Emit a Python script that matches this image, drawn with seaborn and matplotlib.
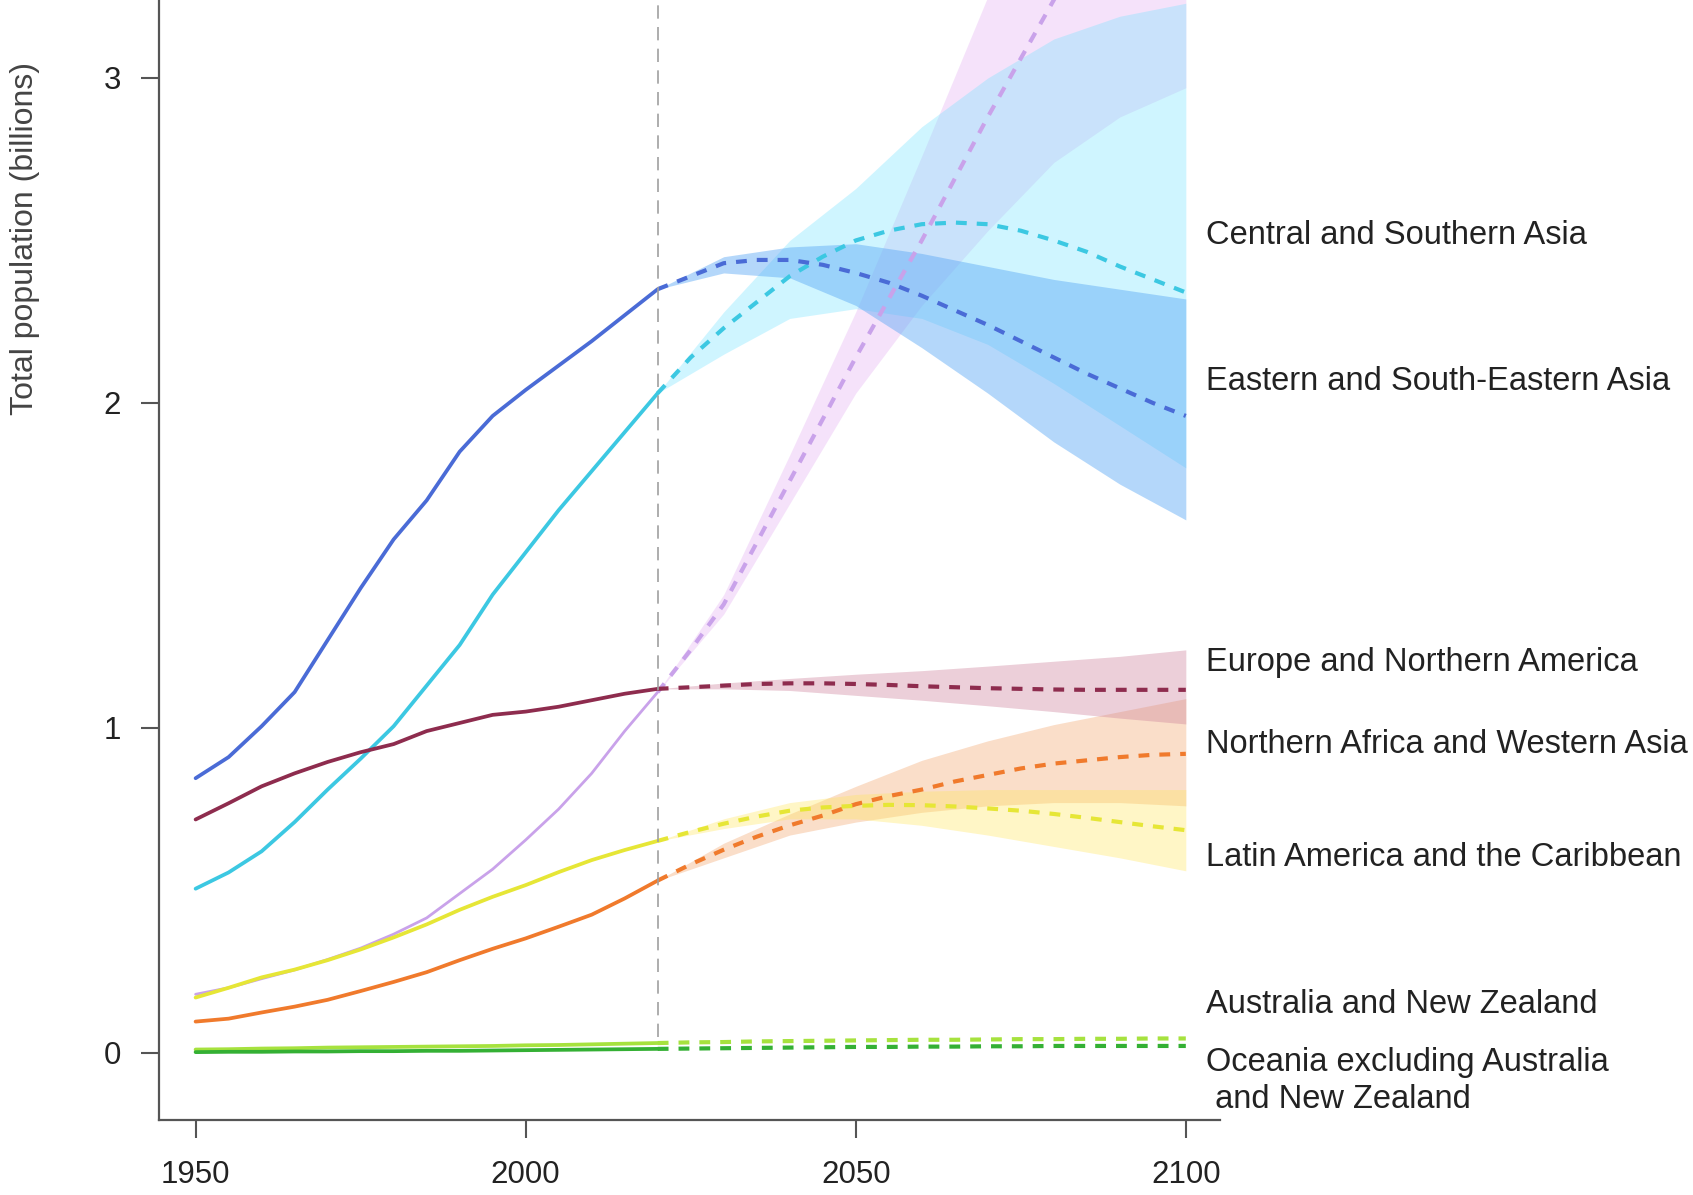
import matplotlib
matplotlib.use("Agg")
import matplotlib.pyplot as plt
import seaborn as sns

# years
hist_years = list(range(1950, 2021, 5))
proj_years = list(range(2020, 2101, 5))
band_years = list(range(2020, 2101, 10))

# estimates 1950-2020 (billions)
esea_hist = [0.845, 0.91, 1.005, 1.11, 1.27, 1.43, 1.58, 1.70, 1.85, 1.96, 2.04, 2.115, 2.19, 2.27, 2.35]
csa_hist = [0.505, 0.555, 0.62, 0.71, 0.81, 0.905, 1.005, 1.13, 1.255, 1.41, 1.54, 1.67, 1.79, 1.91, 2.03]
eur_hist = [0.718, 0.768, 0.82, 0.86, 0.895, 0.925, 0.95, 0.99, 1.015, 1.04, 1.05, 1.065, 1.085, 1.105, 1.12]
ssa_hist = [0.18, 0.20, 0.228, 0.255, 0.287, 0.322, 0.365, 0.415, 0.49, 0.565, 0.655, 0.75, 0.86, 0.99, 1.11]
latam_hist = [0.17, 0.20, 0.232, 0.256, 0.285, 0.318, 0.355, 0.395, 0.44, 0.48, 0.516, 0.556, 0.593, 0.624, 0.652]
nawa_hist = [0.096, 0.105, 0.124, 0.142, 0.163, 0.19, 0.218, 0.248, 0.285, 0.32, 0.352, 0.388, 0.425, 0.475, 0.53]
anz_hist = [0.010, 0.011, 0.013, 0.014, 0.016, 0.017, 0.018, 0.019, 0.020, 0.021, 0.023, 0.024, 0.026, 0.028, 0.030]
oce_hist = [0.002, 0.003, 0.003, 0.004, 0.004, 0.005, 0.005, 0.006, 0.006, 0.007, 0.008, 0.009, 0.010, 0.011, 0.012]

# projections 2020-2100 (median)
esea_proj = [2.35, 2.39, 2.43, 2.44, 2.44, 2.425, 2.40, 2.37, 2.33, 2.285, 2.24, 2.19, 2.14, 2.09, 2.045, 2.0, 1.96]
csa_proj = [2.03, 2.14, 2.23, 2.31, 2.39, 2.45, 2.50, 2.53, 2.55, 2.555, 2.55, 2.53, 2.50, 2.465, 2.42, 2.38, 2.34]
eur_proj = [1.12, 1.125, 1.13, 1.135, 1.137, 1.137, 1.135, 1.132, 1.128, 1.125, 1.122, 1.12, 1.118, 1.117, 1.117, 1.117, 1.117]
ssa_proj = [1.11, 1.24, 1.38, 1.57, 1.76, 1.95, 2.14, 2.32, 2.50, 2.69, 2.88, 3.06, 3.24, 3.42, 3.58, 3.72, 3.85]
latam_proj = [0.652, 0.68, 0.705, 0.727, 0.745, 0.755, 0.76, 0.763, 0.762, 0.758, 0.752, 0.745, 0.735, 0.723, 0.71, 0.697, 0.685]
nawa_proj = [0.53, 0.58, 0.625, 0.665, 0.70, 0.73, 0.765, 0.79, 0.81, 0.835, 0.855, 0.875, 0.89, 0.90, 0.91, 0.917, 0.92]
anz_proj = [0.030, 0.032, 0.033, 0.035, 0.036, 0.037, 0.038, 0.039, 0.040, 0.040, 0.041, 0.042, 0.042, 0.043, 0.043, 0.044, 0.044]
oce_proj = [0.012, 0.013, 0.014, 0.015, 0.016, 0.017, 0.018, 0.018, 0.019, 0.019, 0.020, 0.020, 0.021, 0.021, 0.021, 0.021, 0.021]

# uncertainty bands, every 10 years
esea_lo = [2.35, 2.40, 2.385, 2.30, 2.17, 2.03, 1.88, 1.75, 1.64]
esea_hi = [2.35, 2.45, 2.48, 2.49, 2.46, 2.42, 2.38, 2.35, 2.32]
csa_lo = [2.03, 2.15, 2.26, 2.29, 2.26, 2.18, 2.06, 1.93, 1.80]
csa_hi = [2.03, 2.28, 2.50, 2.66, 2.85, 3.00, 3.12, 3.19, 3.23]
ssa_lo = [1.11, 1.35, 1.69, 2.03, 2.30, 2.53, 2.74, 2.88, 2.97]
ssa_hi = [1.11, 1.41, 1.84, 2.28, 2.76, 3.25, 3.80, 4.30, 4.70]
eur_lo = [1.12, 1.12, 1.115, 1.10, 1.085, 1.068, 1.05, 1.03, 1.012]
eur_hi = [1.12, 1.138, 1.152, 1.165, 1.176, 1.19, 1.205, 1.22, 1.24]
nawa_lo = [0.53, 0.60, 0.67, 0.71, 0.74, 0.76, 0.77, 0.77, 0.76]
nawa_hi = [0.53, 0.645, 0.735, 0.82, 0.90, 0.96, 1.01, 1.05, 1.09]
latam_lo = [0.652, 0.69, 0.72, 0.72, 0.70, 0.67, 0.635, 0.60, 0.56]
latam_hi = [0.652, 0.72, 0.77, 0.795, 0.805, 0.81, 0.81, 0.81, 0.81]

# labels on the right
label_names = ["Central and Southern Asia", "Eastern and South-Eastern Asia",
               "Europe and Northern America", "Northern Africa and Western Asia",
               "Latin America and the Caribbean", "Australia and New Zealand",
               "Oceania excluding Australia\n and New Zealand"]
label_y = [2.515, 2.065, 1.20, 0.95, 0.60, 0.15, -0.087]

regions = [
    # hist, proj, lo, hi, line colour, band colour, band alpha
    (ssa_hist, ssa_proj, ssa_lo, ssa_hi, "#c9a2ea", "#e2a9f1", 0.33),
    (nawa_hist, nawa_proj, nawa_lo, nawa_hi, "#f07a2c", "#f29b5c", 0.33),
    (latam_hist, latam_proj, latam_lo, latam_hi, "#e6e636", "#ffe65c", 0.35),
    (csa_hist, csa_proj, csa_lo, csa_hi, "#3cc8e2", "#70e2ff", 0.33),
    (esea_hist, esea_proj, esea_lo, esea_hi, "#4a6bd6", "#5aa8f5", 0.45),
    (eur_hist, eur_proj, eur_lo, eur_hi, "#8e2c4e", "#cd829b", 0.38),
    (anz_hist, anz_proj, None, None, "#a6e23e", None, 0),
    (oce_hist, oce_proj, None, None, "#34b034", None, 0),
]

sns.set_style("ticks")
plt.rcParams["font.family"] = ["Liberation Sans", "DejaVu Sans"]

fig, ax = plt.subplots(figsize=(16.93, 11.95), dpi=100)
fig.subplots_adjust(left=0.0937, right=0.7207, bottom=0.063, top=1.0)

for hist, proj, lo, hi, col, fill, a in regions:
    if lo is not None:
        ax.fill_between(band_years, lo, hi, color=fill, alpha=a, lw=0)

for hist, proj, lo, hi, col, fill, a in regions:
    lw = 2.0 if col == "#c9a2ea" else 2.7
    sns.lineplot(x=hist_years, y=hist, color=col, lw=lw, ax=ax, errorbar=None)
    sns.lineplot(x=proj_years, y=proj, color=col, lw=3.0, ax=ax, errorbar=None,
                 linestyle=(0, (2.6, 2.4)))

ax.vlines(2020, 0.05, 3.4, colors="#a0a0a0", lw=1.2, linestyles=(0, (8, 5)))

for name, yv in zip(label_names, label_y):
    ax.text(2103, yv, name, fontsize=23.5, color="#222222", ha="left", va="center",
            clip_on=False, linespacing=1.25)

ax.set_xlim(1944.4, 2105.2)
ax.set_ylim(-0.206, 3.24)
ax.set_xticks([1950, 2000, 2050, 2100])
ax.set_yticks([0, 1, 2, 3])
ax.set_xlabel("")
ax.set_ylabel("Total population (billions)", fontsize=23, color="#444444")
ax.yaxis.set_label_coords(-0.112, 0.787)

sns.despine(ax=ax)
for s in ["left", "bottom"]:
    ax.spines[s].set_color("#555555")
    ax.spines[s].set_linewidth(1.6)
ax.tick_params(axis="both", length=13, width=1.5, color="#555555",
               labelsize=22.5, labelcolor="#222222")
ax.tick_params(axis="y", pad=14)
ax.tick_params(axis="x", pad=16)

plt.savefig("out.png", dpi=100)
